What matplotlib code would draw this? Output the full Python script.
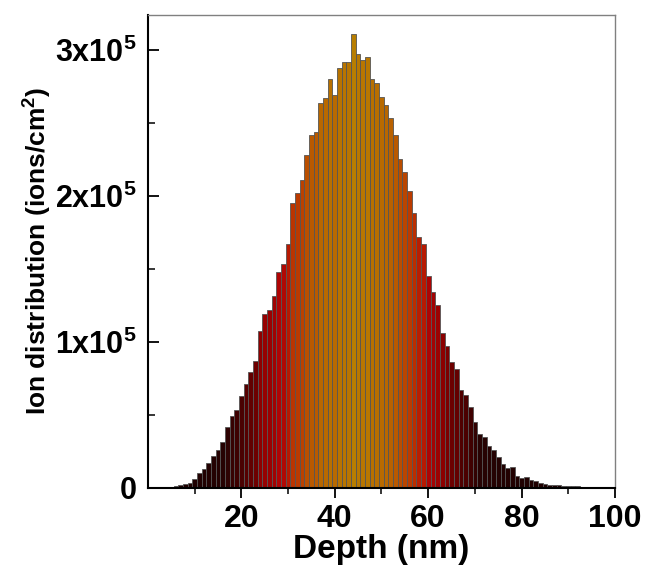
"""Ion implantation depth profile as a height-coloured histogram."""

import matplotlib as mpl
import numpy as np
from matplotlib import pyplot as plt
from matplotlib.colors import LinearSegmentedColormap
from matplotlib.ticker import FixedLocator

mpl.use("Agg")

plt.rcParams["font.family"] = ["Liberation Sans", "DejaVu Sans"]
plt.rcParams["font.weight"] = "bold"
plt.rcParams["mathtext.fontset"] = "custom"
plt.rcParams["mathtext.bf"] = "Liberation Sans:bold"
plt.rcParams["mathtext.rm"] = "Liberation Sans:bold"
plt.rcParams["mathtext.default"] = "bf"

# depth bins (nm) and counts (x1e5 ions/cm^2)
depth = list(range(5, 101))
counts = [
    0.003, 0.008, 0.015, 0.025, 0.035,             # 5-9
    0.06, 0.10, 0.13, 0.17, 0.215,                 # 10-14
    0.26, 0.31, 0.415, 0.49, 0.535,                # 15-19
    0.63, 0.71, 0.79, 0.87, 1.07,                  # 20-24
    1.19, 1.22, 1.31, 1.48, 1.53,                  # 25-29
    1.67, 1.95, 2.02, 2.11, 2.28,                  # 30-34
    2.42, 2.44, 2.635, 2.67, 2.80,                 # 35-39
    2.69, 2.875, 2.92, 2.915, 3.11,                # 40-44
    2.97, 2.93, 2.95, 2.80, 2.77,                  # 45-49
    2.68, 2.62, 2.53, 2.42, 2.25,                  # 50-54
    2.16, 2.03, 1.88, 1.72, 1.67,                  # 55-59
    1.45, 1.34, 1.25, 1.06, 0.97,                  # 60-64
    0.86, 0.81, 0.67, 0.635, 0.55,                 # 65-69
    0.45, 0.365, 0.345, 0.285, 0.255,              # 70-74
    0.21, 0.163, 0.135, 0.138, 0.077,              # 75-79
    0.065, 0.072, 0.052, 0.048, 0.03,              # 80-84
    0.022, 0.02, 0.02, 0.02, 0.012,                # 85-89
    0.012, 0.008, 0.008, 0.007, 0.007,             # 90-94
    0.006, 0.006, 0.005, 0.005, 0.005, 0.005,      # 95-100
]

x_ticks = [20, 40, 60, 80, 100]
x_minor = [10, 30, 50, 70, 90]
y_ticks = [0, 1e5, 2e5, 3e5]
y_minor = [0.5e5, 1.5e5, 2.5e5]
y_tick_labels = ["0", r"1x10$^5$", r"2x10$^5$", r"3x10$^5$"]

heat = LinearSegmentedColormap.from_list(
    "heat",
    [
        (0.0, "#1e0000"),
        (0.12, "#280303"),
        (0.22, "#520000"),
        (0.35, "#900000"),
        (0.48, "#b00404"),
        (0.58, "#bc2800"),
        (0.72, "#ba4c00"),
        (0.85, "#b86800"),
        (1.0, "#b87e00"),
    ],
)

values = np.asarray(counts) * 1e5
colors = heat(values / values.max())

fig = plt.figure(figsize=(6.46, 5.71), dpi=100)
ax = fig.add_axes([0.229, 0.146, 0.723, 0.828])

ax.bar(depth, values, width=1.0, color=colors, edgecolor="#555555", linewidth=0.6)

ax.set_xlim(0, 100)
ax.set_ylim(0, 3.24e5)

ax.xaxis.set_major_locator(FixedLocator(x_ticks))
ax.xaxis.set_minor_locator(FixedLocator(x_minor))
ax.yaxis.set_major_locator(FixedLocator(y_ticks))
ax.yaxis.set_minor_locator(FixedLocator(y_minor))
ax.set_yticklabels(y_tick_labels)

ax.tick_params(axis="x", which="major", direction="out", length=7, width=1.3,
               labelsize=23, pad=5)
ax.tick_params(axis="x", which="minor", direction="out", length=4.5, width=1.1)
ax.tick_params(axis="y", which="major", direction="in", length=8, width=1.3,
               labelsize=22, pad=8)
ax.tick_params(axis="y", which="minor", direction="in", length=5, width=1.1)

for spine in ("left", "bottom"):
    ax.spines[spine].set_color("black")
    ax.spines[spine].set_linewidth(1.5)
for spine in ("top", "right"):
    ax.spines[spine].set_color("#808080")
    ax.spines[spine].set_linewidth(1.0)

ax.set_xlabel("Depth (nm)", fontsize=24, fontweight="bold", labelpad=0)
ax.set_ylabel(r"Ion distribution (ions/cm$^2$)", fontsize=19, fontweight="bold",
              labelpad=1)

fig.savefig("out.png", dpi=100)
plt.close(fig)
